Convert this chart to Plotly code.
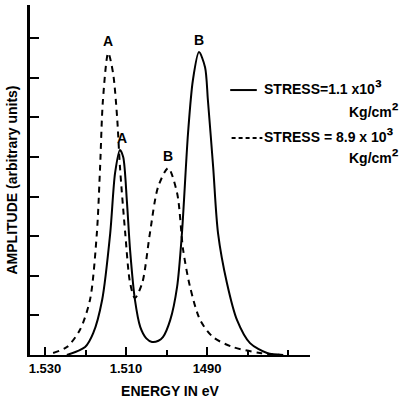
import plotly.graph_objects as go

# Energy (eV) and amplitude (arbitrary units)
solid_energy = [1.5246, 1.5201, 1.5181, 1.5159, 1.5139, 1.5127, 1.5115, 1.5107, 1.5098, 1.5090,
                1.5078, 1.5065, 1.5050, 1.5036, 1.5020, 1.5009, 1.4991, 1.4974, 1.4962, 1.4947,
                1.4935, 1.4920, 1.4905, 1.4898, 1.4885, 1.4873, 1.4851, 1.4826, 1.4794, 1.4752,
                1.4712]
solid_amp = [0.0, 0.2, 0.55, 1.39, 3.08, 4.6, 5.18, 5.0, 3.9, 2.65,
             1.39, 0.71, 0.42, 0.33, 0.36, 0.45, 0.88, 1.72, 3.08, 5.6,
             6.94, 7.65, 7.27, 6.44, 4.75, 3.08, 1.82, 0.88, 0.3, 0.05,
             0.0]

dashed_energy = [1.5280, 1.5246, 1.5214, 1.5189, 1.5172, 1.5164, 1.5157, 1.5144, 1.5132, 1.5122,
                 1.5115, 1.5102, 1.5090, 1.5078, 1.5060, 1.5041, 1.5021, 1.4996, 1.4974, 1.4959,
                 1.4942, 1.4917, 1.4885, 1.4836, 1.4769, 1.4720]
dashed_amp = [0.05, 0.2, 0.63, 1.39, 3.08, 4.75, 6.44, 7.63, 7.12, 6.0,
              4.75, 3.08, 1.82, 1.44, 1.82, 3.08, 4.24, 4.72, 4.09, 2.65,
              1.72, 0.88, 0.45, 0.2, 0.05, 0.0]

major_ticks = [1.530, 1.510, 1.490]
major_labels = ["1.530", "1.510", "1490"]
minor_ticks = [1.520, 1.500, 1.480, 1.470]
y_ticks = [1, 2, 3, 4, 5, 6, 7, 8]

peak_labels = [("A", 1.5144, 7.63), ("A", 1.5111, 5.18), ("B", 1.4996, 4.72), ("B", 1.4920, 7.65)]

FONT = "Liberation Sans"
SUP3 = "<span style='font-size:20px'>³</span>"
SUP2 = "<span style='font-size:20px'>²</span>"

fig = go.Figure()
fig.add_trace(go.Scatter(x=solid_energy, y=solid_amp, mode="lines",
                         line=dict(color="black", width=2, shape="spline", smoothing=0.8),
                         showlegend=False, hoverinfo="skip"))
fig.add_trace(go.Scatter(x=dashed_energy, y=dashed_amp, mode="lines",
                         line=dict(color="black", width=2, dash="6px,5px", shape="spline", smoothing=0.8),
                         showlegend=False, hoverinfo="skip"))

for lab, e, a in peak_labels:
    fig.add_annotation(x=e, y=a, text="<b>%s</b>" % lab, showarrow=False, yshift=12,
                       font=dict(family=FONT, size=14, color="black"))

# legend (drawn manually)
fig.add_shape(type="line", xref="paper", yref="paper", x0=0.715, x1=0.81, y0=0.757, y1=0.757,
              line=dict(color="black", width=2))
fig.add_shape(type="line", xref="paper", yref="paper", x0=0.72, x1=0.83, y0=0.62, y1=0.62,
              line=dict(color="black", width=2, dash="4px,3px"))
fig.add_annotation(xref="paper", yref="paper", x=0.83, y=0.765, xanchor="left", yanchor="middle",
                   text="<b>STRESS=1.1 x10" + SUP3 + "</b>", showarrow=False,
                   font=dict(family=FONT, size=14, color="black"))
fig.add_annotation(xref="paper", yref="paper", x=1.325, y=0.70, xanchor="right", yanchor="middle",
                   text="<b>Kg/cm" + SUP2 + "</b>", showarrow=False,
                   font=dict(family=FONT, size=14, color="black"))
fig.add_annotation(xref="paper", yref="paper", x=0.83, y=0.628, xanchor="left", yanchor="middle",
                   text="<b>STRESS = 8.9 x 10" + SUP3 + "</b>", showarrow=False,
                   font=dict(family=FONT, size=14, color="black"))
fig.add_annotation(xref="paper", yref="paper", x=1.325, y=0.568, xanchor="right", yanchor="middle",
                   text="<b>Kg/cm" + SUP2 + "</b>", showarrow=False,
                   font=dict(family=FONT, size=14, color="black"))

fig.update_layout(
    width=411, height=408,
    margin=dict(l=30, r=101, t=5, b=53),
    paper_bgcolor="white", plot_bgcolor="white",
    font=dict(family=FONT, size=12, color="black"),
    xaxis=dict(range=[1.5337, 1.4646], showgrid=False, zeroline=False, automargin=False,
               showline=True, linecolor="black", linewidth=2,
               tickmode="array", tickvals=major_ticks, ticktext=["<b>%s</b>" % t for t in major_labels],
               ticks="inside", ticklen=8, tickwidth=2, tickcolor="black",
               tickfont=dict(family=FONT, size=13),
               minor=dict(tickvals=minor_ticks, ticks="inside", ticklen=5, tickwidth=2, tickcolor="black"),
               title=dict(text="<b>ENERGY IN eV</b>", font=dict(family=FONT, size=14), standoff=12)),
    yaxis=dict(range=[0, 8.84], showgrid=False, zeroline=False, automargin=False,
               showline=True, linecolor="black", linewidth=3,
               tickmode="array", tickvals=y_ticks, ticktext=[""] * len(y_ticks),
               ticks="inside", ticklen=9, tickwidth=2, tickcolor="black",
               title=dict(text="<b>AMPLITUDE (arbitrary units)</b>", font=dict(family=FONT, size=14), standoff=4)),
)

fig.write_html("out.html", config={"displayModeBar": False},
               post_script="document.body.style.margin='0px';")
